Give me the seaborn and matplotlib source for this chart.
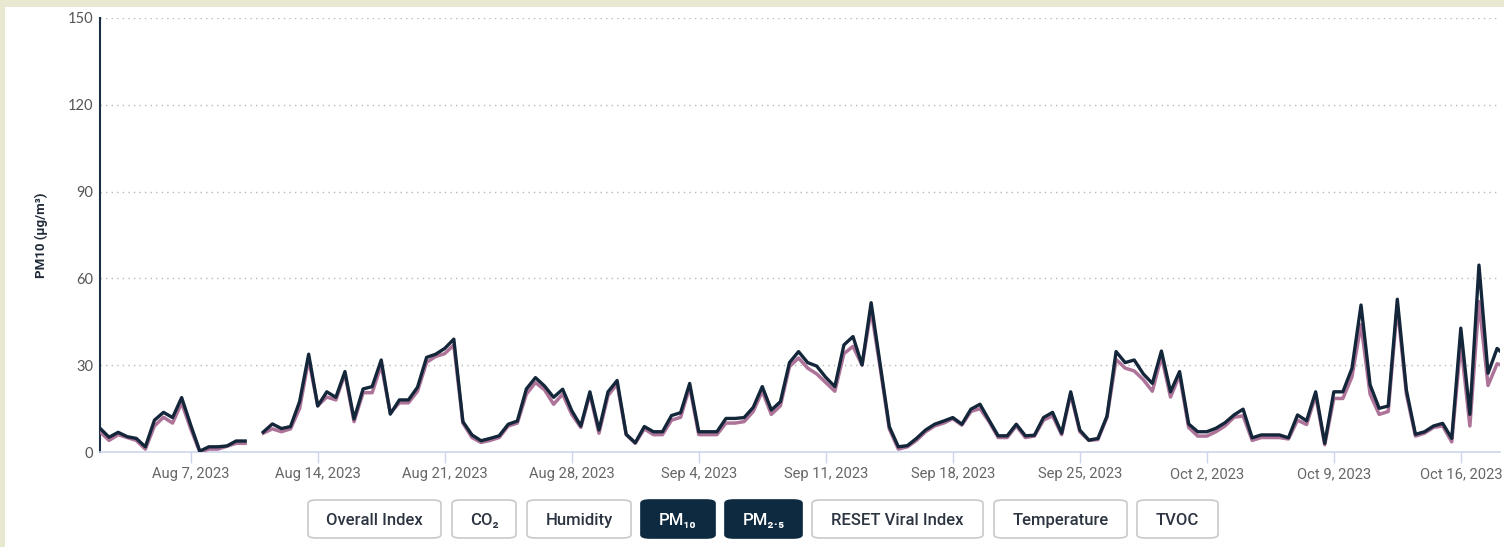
import numpy as np
import pandas as pd
import matplotlib
matplotlib.use("Agg")
import matplotlib.pyplot as plt
import matplotlib.dates as mdates
from matplotlib.patches import FancyBboxPatch, Rectangle
import seaborn as sns

# ---------------- data ----------------
start_time = "2023-08-02 00:00"
step = "12h"
nan = np.nan
pm10 = [8.2, 5.1, 6.8, 5.3, 4.7, 1.8, 11, 13.7, 11.9, 18.8,
        9.3, 0.3, 1.8, 1.8, 2.1, 3.8, 3.8, nan, 6.9, 9.7,
        8.1, 8.8, 17.4, 33.8, 15.9, 20.8, 18.9, 27.8, 11.4, 21.8,
        22.6, 31.8, 13.1, 18, 18, 22.4, 32.7, 33.8, 35.8, 39,
        10.5, 5.9, 3.9, 4.7, 5.6, 9.6, 10.7, 21.8, 25.7, 22.8,
        18.9, 21.7, 14.3, 9, 20.8, 7.6, 20.8, 24.7, 6.1, 3.2,
        8.8, 7, 7, 12.6, 13.6, 23.7, 7, 7, 7, 11.6,
        11.6, 11.9, 15.4, 22.6, 14.5, 17.4, 30.9, 34.7, 30.9, 29.7,
        25.8, 22.6, 37, 39.9, 30.1, 51.6, 30.1, 8.8, 1.8, 2.2,
        4.7, 7.6, 9.6, 10.7, 11.9, 9.6, 14.8, 16.5, 11, 5.6,
        5.6, 9.6, 5.6, 5.8, 11.9, 13.7, 6.5, 20.8, 7.6, 4.1,
        4.7, 12.4, 34.7, 30.9, 31.8, 27, 23.7, 34.9, 20.8, 27.8,
        9.7, 7, 7, 8.2, 10.1, 12.8, 14.8, 4.9, 5.9, 5.9,
        5.9, 4.9, 12.8, 10.8, 20.8, 3, 20.8, 20.8, 28.9, 50.8,
        23.2, 15.1, 15.9, 52.8, 21.4, 6.1, 7, 9, 9.9, 4.7,
        42.8, 13, 64.6, 27.2, 35.8, 33]
pm25 = [7, 4, 6, 5, 4, 1, 9, 12, 10, 17,
        8, 0, 1, 1, 2, 3, 3, nan, 6.5, 8,
        7, 8, 15, 32, 16, 19, 18, 27, 10.5, 20.5,
        20.5, 30, 13.5, 17, 17, 21, 31, 33, 34, 37,
        10, 5, 3.3, 4, 5, 9, 10, 20, 24, 21.5,
        16.5, 20, 13, 8.5, 20, 6.5, 19.5, 23.5, 6, 3,
        8, 6, 6, 11, 12, 22.5, 6, 6, 6, 10,
        10, 10.5, 14, 21, 13, 16, 29.5, 32.5, 29, 27,
        24, 21, 34, 36.5, 30, 49, 29, 8, 1, 1.8,
        4, 7, 9, 10, 11.5, 9.3, 14, 15, 10.5, 5,
        5, 9, 5, 5.5, 11, 12.5, 6, 20, 7, 4,
        4.3, 12, 32, 29, 28, 25, 21, 33, 19, 26.5,
        8.5, 5.5, 5.5, 7, 9, 12, 12.5, 4, 5, 5,
        5, 4.5, 11, 9.5, 19.5, 2.5, 18.5, 18.5, 26, 44,
        20, 13, 14, 50.5, 20, 5.5, 6.5, 8.5, 9, 3.5,
        37.5, 9, 52, 23, 30.5, 29.5]
series_names = ["PM10", "PM2.5"]
y_ticks = [0, 30, 60, 90, 120, 150]
x_tick_dates = ["2023-08-07", "2023-08-14", "2023-08-21", "2023-08-28", "2023-09-04",
                "2023-09-11", "2023-09-18", "2023-09-25", "2023-10-02", "2023-10-09",
                "2023-10-16"]
buttons = ["Overall Index", "CO\u2082", "Humidity", "PM\u2081\u2080", "PM\u2082.\u2085",
           "RESET Viral Index", "Temperature", "TVOC"]
active_buttons = ["PM\u2081\u2080", "PM\u2082.\u2085"]

# ---------------- frame ----------------
times = pd.date_range(start_time, periods=len(pm10), freq=step)
df = pd.DataFrame({"time": np.tile(times, 2),
                   "value": pm10 + pm25,
                   "series": np.repeat(series_names, len(pm10))})
# segment id so gaps (NaN) break the line
seg = np.cumsum(np.isnan(np.array(pm10, dtype=float)))
df["seg"] = np.tile(seg, 2)
df = df.dropna()

W, H = 1504, 547
fig = plt.figure(figsize=(W / 100, H / 100), dpi=100)
fig.patch.set_facecolor("#e9e9d2")
fig.patches.append(Rectangle((5 / W, 0), 1, 1 - 7 / H, transform=fig.transFigure,
                             facecolor="white", edgecolor="none", zorder=-10))

ax = fig.add_axes([100 / W, 1 - 452 / H, 1400 / W, 434 / H])
ax.set_zorder(2)
ax.set_facecolor("none")

colors = {"PM2.5": "#ad7399", "PM10": "#14263a"}
sns.lineplot(data=df[df.series == "PM2.5"], x="time", y="value", units="seg",
             estimator=None, color=colors["PM2.5"], lw=2.5, ax=ax, zorder=3)
sns.lineplot(data=df[df.series == "PM10"], x="time", y="value", units="seg",
             estimator=None, color=colors["PM10"], lw=2.4, ax=ax, zorder=4)

ax.set_ylim(0, 150)
ax.set_xlim(pd.Timestamp("2023-08-02 00:00"), pd.Timestamp("2023-10-18 03:50"))
ax.set_yticks(y_ticks)
ax.set_yticklabels([str(t) for t in y_ticks], family="Lato", fontsize=10.5, color="#555555")
ax.tick_params(axis="y", length=0, pad=5)

ax.set_xticks(pd.to_datetime(x_tick_dates))
ax.xaxis.set_major_formatter(mdates.DateFormatter("%b %-d, %Y"))
ax.tick_params(axis="x", length=8, width=1, color="#ccd6eb", pad=3,
               labelsize=10.6, labelcolor="#666666")
for lab in ax.get_xticklabels():
    lab.set_family("Roboto")

for v in y_ticks[1:]:
    ax.axhline(v, color="#b8b8b8", lw=1, ls=(0, (1, 3)), zorder=1)

for s in ["top", "right"]:
    ax.spines[s].set_visible(False)
ax.spines["left"].set_color("#1b3045")
ax.spines["left"].set_linewidth(1.5)
ax.spines["bottom"].set_color("#ccd6eb")
ax.spines["bottom"].set_linewidth(1.2)

ax.set_xlabel("")
ax.set_ylabel("PM10 (\u00b5g/m\u00b3)", family=["Roboto", "DejaVu Sans"], fontsize=9.5,
              fontweight="bold", color="#1f2b38", labelpad=14)

# ---------------- buttons ----------------
btn_px = [(308, 441), (452, 516), (527, 631), (641, 715), (725, 802),
          (812, 983), (994, 1127), (1137, 1218)]
y0, y1 = 500, 538
for name, (x0, x1) in zip(buttons, btn_px):
    active = name in active_buttons
    box = FancyBboxPatch((x0 / W, 1 - y1 / H), (x1 - x0) / W, (y1 - y0) / H,
                         boxstyle="round,pad=0,rounding_size=0.006",
                         transform=fig.transFigure,
                         facecolor="#0e2a40" if active else "white",
                         edgecolor="#0e2a40" if active else "#c9c9c9", lw=1.2)
    fig.patches.append(box)
    fig.text((x0 + x1) / 2 / W, 1 - (y0 + y1 + 3) / 2 / H, name,
             ha="center", va="center", fontsize=12, fontweight="medium",
             family=["Roboto", "DejaVu Sans"],
             color="white" if active else "#2b3440")

fig.savefig("out.png", dpi=100, facecolor=fig.get_facecolor())
